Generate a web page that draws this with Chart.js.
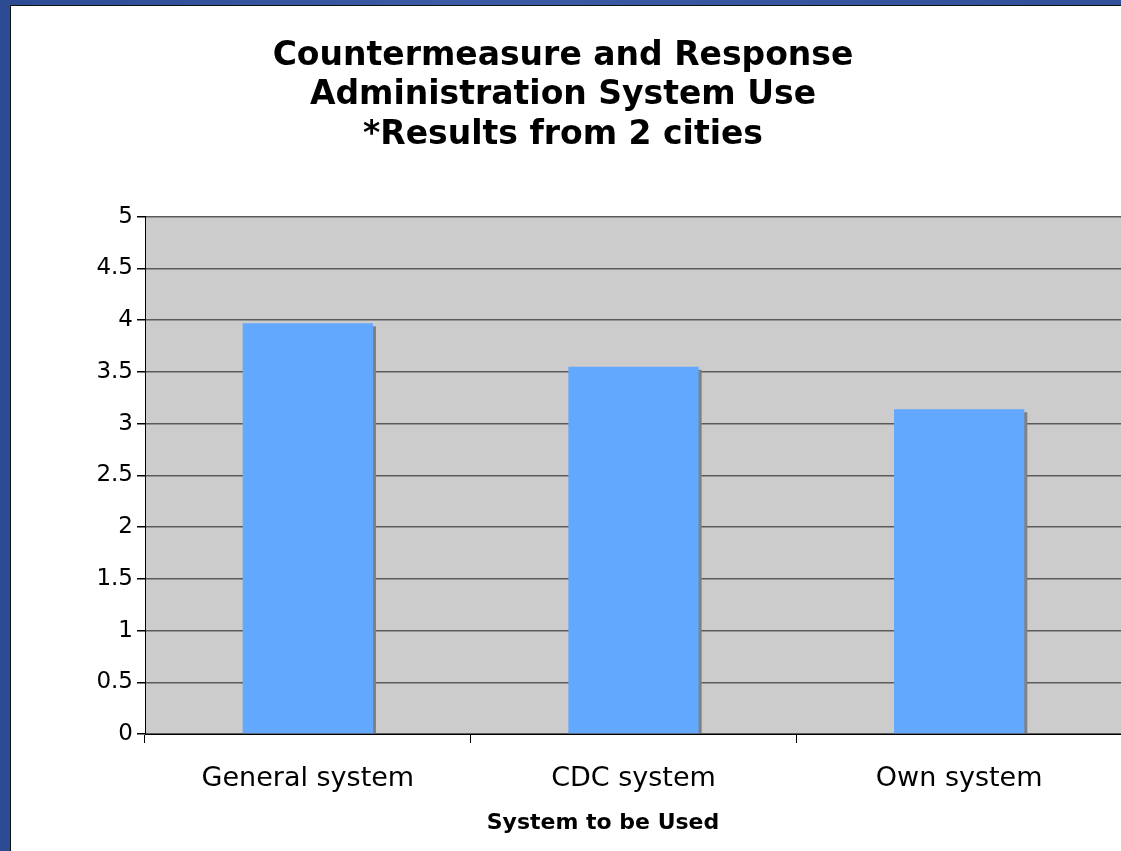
<!DOCTYPE html>
<html>
<head>
<meta charset="utf-8">
<script src="https://cdn.jsdelivr.net/npm/chart.js@4"></script>
<style>
  html, body { margin: 0; padding: 0; overflow: hidden; }
  body { width: 1121px; height: 851px; background: linear-gradient(90deg, #2d4b92, #3b5ba6 40%, #31509a); }
  #panel { position: absolute; left: 10px; top: 5px; width: 1111px; height: 846px; background: #fff; border-left: 1px solid #111; border-top: 1px solid #111; box-sizing: border-box; }
  canvas { position: absolute; left: 0; top: 0; }
</style>
</head>
<body>
<div id="panel"><canvas id="chart" width="1111" height="846"></canvas></div>
<script>
// values
const categories = ['General system', 'CDC system', 'Own system'];
const scores = [3.97, 3.55, 3.14];
const titleLines = ['Countermeasure and Response', 'Administration System Use', '*Results from 2 cities'];
const xTitle = 'System to be Used';

const plotBackground = {
  id: 'plotBackground',
  beforeDraw(chart) {
    const { ctx, chartArea: a } = chart;
    ctx.save();
    ctx.fillStyle = '#cccccc';
    ctx.fillRect(a.left, a.top, a.right - a.left, a.bottom - a.top);
    ctx.restore();
  }
};

// grey drop shadow on the right side of each bar
const barShadow = {
  id: 'barShadow',
  beforeDatasetsDraw(chart) {
    const { ctx } = chart;
    ctx.save();
    ctx.fillStyle = '#808080';
    chart.getDatasetMeta(0).data.forEach(bar => {
      const right = bar.x + bar.width / 2;
      ctx.fillRect(right - 1, bar.y + 3, 4, bar.base - bar.y - 3);
    });
    ctx.restore();
  }
};

const axisTitle = {
  id: 'axisTitle',
  afterDraw(chart) {
    const { ctx } = chart;
    ctx.save();
    ctx.font = 'bold 22px "DejaVu Sans"';
    ctx.fillStyle = '#000';
    ctx.textAlign = 'center';
    ctx.textBaseline = 'middle';
    ctx.fillText(xTitle, 592, 817);
    ctx.restore();
  }
};

new Chart(document.getElementById('chart'), {
  type: 'bar',
  data: {
    labels: categories,
    datasets: [{
      data: scores,
      backgroundColor: '#63a8ff',
      borderWidth: 0,
      barPercentage: 0.4,
      categoryPercentage: 1
    }]
  },
  options: {
    responsive: false,
    animation: false,
    layout: { padding: { left: -12, right: -5, top: 0, bottom: 0 } },
    plugins: {
      legend: { display: false },
      tooltip: { enabled: false },
      title: {
        display: true,
        text: titleLines,
        color: '#000',
        font: { family: 'DejaVu Sans', size: 33, weight: 'bold', lineHeight: 1.21 },
        padding: { top: 30, bottom: 61 }
      }
    },
    scales: {
      x: {
        afterFit(scale) { scale.height = 118; },
        grid: { drawOnChartArea: false, drawTicks: true, tickLength: 9, tickColor: '#000', offset: true },
        border: { display: true, color: '#000', width: 1 },
        ticks: { color: '#000', font: { family: 'DejaVu Sans', size: 27 }, padding: 20 }
      },
      y: {
        min: 0,
        max: 5,
        afterFit(scale) { scale.width = 146; },
        ticks: {
          stepSize: 0.5,
          color: '#000',
          font: { family: 'DejaVu Sans', size: 23 },
          padding: 4,
          callback: value => String(value)
        },
        grid: { color: '#5a5a5a', lineWidth: 1.5, tickLength: 8, tickColor: '#000' },
        border: { display: true, color: '#000', width: 1 }
      }
    }
  },
  plugins: [plotBackground, barShadow, axisTitle]
});
</script>
</body>
</html>
